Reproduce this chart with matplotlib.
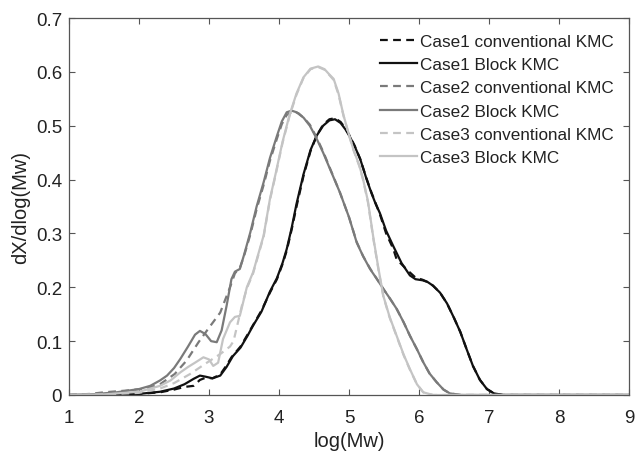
import matplotlib
matplotlib.use("Agg")
import matplotlib.pyplot as plt

# --- Curve data (log(Mw), dX/dlog(Mw)) ---
case1_block_x = [1.0, 1.5, 2.0, 2.3, 2.5, 2.65, 2.78, 2.87, 2.95, 3.05, 3.16, 3.25, 3.34, 3.45, 3.55,
                 3.63, 3.75, 3.87, 3.97, 4.05, 4.11, 4.18, 4.25, 4.35, 4.45, 4.54, 4.63, 4.72, 4.8,
                 4.88, 4.95, 5.01, 5.08, 5.16, 5.25, 5.32, 5.38, 5.44, 5.53, 5.63, 5.75, 5.87, 5.95,
                 6.05, 6.12, 6.2, 6.3, 6.4, 6.5, 6.59, 6.68, 6.77, 6.87, 6.97, 7.07, 7.2, 9.0]
case1_block_y = [0.0, 0.0005, 0.002, 0.006, 0.012, 0.02, 0.03, 0.036, 0.034, 0.031, 0.036, 0.052, 0.072,
                 0.088, 0.11, 0.129, 0.155, 0.192, 0.217, 0.245, 0.271, 0.31, 0.355, 0.41, 0.455, 0.482,
                 0.5, 0.51, 0.512, 0.505, 0.493, 0.48, 0.462, 0.438, 0.401, 0.375, 0.355, 0.338, 0.305,
                 0.277, 0.245, 0.222, 0.215, 0.213, 0.21, 0.203, 0.19, 0.17, 0.143, 0.117, 0.085, 0.054,
                 0.028, 0.011, 0.003, 0.0, 0.0]

case1_conv_x = [1.0, 1.5, 2.0, 2.3, 2.5, 2.65, 2.78, 2.87, 2.95, 3.05, 3.16, 3.25, 3.32, 3.45, 3.55,
                3.63, 3.75, 3.87, 3.97, 4.05, 4.11, 4.18, 4.25, 4.35, 4.45, 4.54, 4.63, 4.72, 4.8,
                4.88, 4.95, 5.01, 5.08, 5.16, 5.25, 5.32, 5.38, 5.44, 5.53, 5.63, 5.68, 5.84, 5.95,
                6.05, 6.12, 6.2, 6.3, 6.4, 6.5, 6.59, 6.68, 6.77, 6.87, 6.97, 7.07, 7.2, 9.0]
case1_conv_y = [0.0, 0.0005, 0.002, 0.005, 0.01, 0.015, 0.017, 0.028, 0.032, 0.031, 0.038, 0.055, 0.07,
                0.09, 0.112, 0.13, 0.157, 0.19, 0.215, 0.243, 0.268, 0.307, 0.35, 0.407, 0.453, 0.482,
                0.502, 0.512, 0.514, 0.507, 0.495, 0.481, 0.463, 0.438, 0.402, 0.376, 0.356, 0.336, 0.3,
                0.272, 0.252, 0.231, 0.218, 0.214, 0.21, 0.203, 0.19, 0.17, 0.143, 0.117, 0.085, 0.054,
                0.028, 0.011, 0.003, 0.0, 0.0]

case2_block_x = [1.0, 1.3, 1.68, 2.0, 2.16, 2.3, 2.4, 2.5, 2.59, 2.7, 2.8, 2.87, 2.95, 3.03, 3.11,
                 3.18, 3.25, 3.32, 3.37, 3.44, 3.5, 3.59, 3.68, 3.78, 3.87, 3.97, 4.04, 4.11, 4.18,
                 4.25, 4.35, 4.44, 4.53, 4.63, 4.75, 4.87, 5.0, 5.11, 5.2, 5.3, 5.4, 5.49, 5.58, 5.68,
                 5.78, 5.87, 5.97, 6.06, 6.15, 6.25, 6.35, 6.44, 6.6, 9.0]
case2_block_y = [0.0, 0.001, 0.005, 0.011, 0.017, 0.027, 0.036, 0.05, 0.067, 0.09, 0.112, 0.119, 0.113,
                 0.1, 0.098, 0.12, 0.165, 0.215, 0.229, 0.234, 0.26, 0.302, 0.35, 0.395, 0.44, 0.481,
                 0.508, 0.525, 0.528, 0.525, 0.515, 0.5, 0.478, 0.45, 0.413, 0.376, 0.33, 0.283, 0.258,
                 0.234, 0.215, 0.197, 0.18, 0.16, 0.135, 0.11, 0.085, 0.061, 0.04, 0.024, 0.01, 0.003,
                 0.0, 0.0]

case2_conv_x = [1.0, 1.3, 1.5, 1.8, 2.1, 2.3, 2.51, 2.68, 2.85, 3.0, 3.16, 3.3, 3.37, 3.44, 3.5,
                3.59, 3.68, 3.78, 3.87, 3.97, 4.04, 4.11, 4.2, 4.28, 4.35, 4.44, 4.53, 4.63, 4.75,
                4.87, 5.0, 5.11, 5.2, 5.3, 5.4, 5.49, 5.58, 5.68, 5.78, 5.87, 5.97, 6.06, 6.15, 6.25,
                6.35, 6.44, 6.6, 9.0]
case2_conv_y = [0.0, 0.002, 0.005, 0.008, 0.012, 0.02, 0.039, 0.064, 0.098, 0.125, 0.153, 0.2, 0.226,
                0.236, 0.258, 0.298, 0.345, 0.39, 0.435, 0.476, 0.503, 0.52, 0.527, 0.523, 0.515, 0.502,
                0.48, 0.452, 0.414, 0.376, 0.33, 0.284, 0.258, 0.235, 0.215, 0.197, 0.18, 0.16, 0.135,
                0.11, 0.085, 0.061, 0.04, 0.024, 0.01, 0.003, 0.0, 0.0]

case3_block_x = [1.0, 1.5, 2.0, 2.3, 2.45, 2.59, 2.7, 2.8, 2.92, 3.0, 3.06, 3.13, 3.2, 3.3, 3.37,
                 3.44, 3.54, 3.63, 3.7, 3.78, 3.87, 3.95, 4.05, 4.15, 4.25, 4.35, 4.45, 4.56, 4.65,
                 4.72, 4.78, 4.85, 4.92, 5.0, 5.06, 5.15, 5.2, 5.27, 5.35, 5.42, 5.49, 5.58, 5.68,
                 5.78, 5.87, 5.97, 6.06, 6.2, 9.0]
case3_block_y = [0.0, 0.001, 0.006, 0.017, 0.027, 0.042, 0.052, 0.06, 0.07, 0.066, 0.054, 0.06, 0.104,
                 0.135, 0.145, 0.147, 0.2, 0.228, 0.26, 0.296, 0.364, 0.41, 0.47, 0.52, 0.56, 0.59,
                 0.606, 0.61, 0.605, 0.595, 0.587, 0.56, 0.52, 0.483, 0.457, 0.425, 0.401, 0.36, 0.29,
                 0.235, 0.184, 0.145, 0.11, 0.075, 0.048, 0.02, 0.005, 0.0, 0.0]

case3_conv_x = [1.0, 1.5, 2.0, 2.3, 2.5, 2.73, 2.97, 3.16, 3.3, 3.35, 3.47, 3.54, 3.63, 3.7, 3.78,
                3.87, 3.95, 4.05, 4.15, 4.25, 4.35, 4.45, 4.56, 4.65, 4.72, 4.78, 4.85, 4.92, 5.0,
                5.06, 5.15, 5.2, 5.27, 5.35, 5.42, 5.49, 5.58, 5.68, 5.78, 5.87, 5.97, 6.06, 6.2, 9.0]
case3_conv_y = [0.0, 0.001, 0.004, 0.012, 0.022, 0.039, 0.06, 0.076, 0.09, 0.1, 0.166, 0.198, 0.226,
                0.258, 0.294, 0.362, 0.408, 0.468, 0.518, 0.558, 0.589, 0.605, 0.609, 0.604, 0.594,
                0.585, 0.558, 0.519, 0.482, 0.456, 0.424, 0.4, 0.358, 0.288, 0.233, 0.183, 0.144,
                0.109, 0.074, 0.047, 0.02, 0.005, 0.0, 0.0]

series = [
    ("Case1 conventional KMC", case1_conv_x, case1_conv_y),
    ("Case1 Block KMC", case1_block_x, case1_block_y),
    ("Case2 conventional KMC", case2_conv_x, case2_conv_y),
    ("Case2 Block KMC", case2_block_x, case2_block_y),
    ("Case3 conventional KMC", case3_conv_x, case3_conv_y),
    ("Case3 Block KMC", case3_block_x, case3_block_y),
]
colors = ["#111111", "#111111", "#7a7a7a", "#7a7a7a", "#c4c4c4", "#c4c4c4"]
styles = ["--", "-", "--", "-", "--", "-"]

plt.rcParams["font.family"] = ["Liberation Sans", "DejaVu Sans"]

fig = plt.figure(figsize=(6.35, 4.56), dpi=100)
ax = fig.add_axes([0.1087, 0.1316, 0.8819, 0.8267])

for (label, xs, ys), c, ls in zip(series, colors, styles):
    if ls == "--":
        ax.plot(xs, ys, color=c, lw=1.6, dashes=(3.5, 2.4), label=label)
    else:
        ax.plot(xs, ys, color=c, lw=1.6, label=label)

ax.set_xlim(1, 9)
ax.set_ylim(0, 0.7)
ax.set_xticks(range(1, 10))
ax.set_yticks([0, 0.1, 0.2, 0.3, 0.4, 0.5, 0.6, 0.7])
ax.set_yticklabels(["0", "0.1", "0.2", "0.3", "0.4", "0.5", "0.6", "0.7"])
ax.tick_params(direction="in", length=4, width=0.8, top=True, right=True,
               labelsize=13.5, colors="#555555", labelcolor="#222222")
ax.tick_params(axis="x", pad=10)
ax.tick_params(axis="y", pad=5)
for sp in ax.spines.values():
    sp.set_color("#555555")
    sp.set_linewidth(0.9)

ax.set_xlabel("log(Mw)", fontsize=14.5, color="#222222", labelpad=4)
ax.set_ylabel("dX/dlog(Mw)", fontsize=14.5, color="#222222", labelpad=4)

leg = ax.legend(loc="upper right", bbox_to_anchor=(0.991, 0.985), fontsize=12.3, frameon=False,
                handlelength=2.2, handletextpad=0.15, labelspacing=0.48, borderaxespad=0.2)
for t in leg.get_texts():
    t.set_color("#222222")

fig.savefig("out.png", dpi=100)
